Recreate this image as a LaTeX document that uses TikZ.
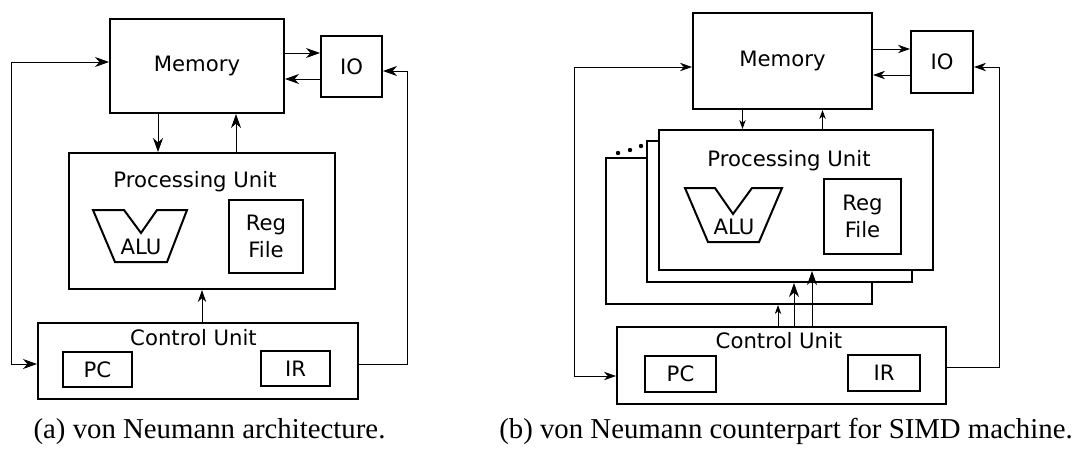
\documentclass[tikz,border=0pt]{standalone}
\usepackage{fontspec}
\setmainfont{Liberation Serif}
\newfontfamily\blockfont{DejaVu Sans}
\usetikzlibrary{arrows.meta}

\begin{document}
\begin{tikzpicture}
	[x=0.5pt, y=-0.5pt,
	>={Stealth[length=7pt,width=5pt,inset=2.2pt]},
	midtip/.style={>={Stealth[length=6pt,width=4.2pt,inset=1.9pt]}},
	smalltip/.style={>={Stealth[length=4.5pt,width=3.2pt,inset=1.4pt]}},
	block/.style={draw, line width=1pt, fill=white, inner sep=0pt,
		font=\blockfont\fontsize{10.6}{13.5}\selectfont, align=center},
	blocktext/.style={inner sep=0pt, font=\blockfont\fontsize{10.6}{13.5}\selectfont},
	wire/.style={line width=0.5pt},
	captiontext/.style={anchor=base, inner sep=0pt, font=\fontsize{14.4}{17}\selectfont}]
	\useasboundingbox (0,0) rectangle (1075,456);

	% (a)
	\node[block, minimum width=87pt, minimum height=47pt] (memA) at (197,66) {Memory};
	\node[block, minimum width=30.5pt, minimum height=30.5pt] (ioA) at (351.5,66.5) {IO};
	\node[block, minimum width=133pt, minimum height=68pt] (puA) at (202,221) {};
	\node[blocktext] (puAname) at (195,182) {Processing Unit};
	\draw[line width=1pt] (93,210) -- (124,210) -- (141,233) -- (157,210) -- (187,210)
		-- (167,262) -- (115,262) -- cycle;
	\node[blocktext] (aluA) at (141,247) {ALU};
	\node[block, minimum width=37pt, minimum height=36.5pt] (regA) at (266,236.5) {Reg\\File};
	\node[block, minimum width=160pt, minimum height=38pt] (cuA) at (198,361) {};
	\node[blocktext] (cuAname) at (193.5,337.5) {Control Unit};
	\node[block, minimum width=34.5pt, minimum height=17.5pt] (pcA) at (97.5,369.5) {PC};
	\node[block, minimum width=34.5pt, minimum height=17.5pt] (irA) at (295.5,368.5) {IR};
	\coordinate (leftA) at (11,0);
	\coordinate (rightA) at (407,0);
	\coordinate (cuAin) at ([yshift=-1.5pt]cuA.west);
	\coordinate (cuAout) at ([yshift=-1.5pt]cuA.east);
	\coordinate (ioAin) at ([yshift=-2.25pt]ioA.east);

	\draw[wire,->] ([yshift=6.5pt]memA.east) -- ([yshift=6.5pt]memA.east -| ioA.west);
	\draw[wire,->] ([yshift=-6.25pt]ioA.west) -- ([yshift=-6.25pt]ioA.west -| memA.east);
	\draw[wire,->] ([xshift=-19.5pt]memA.south) -- ([xshift=-19.5pt]memA.south |- puA.north);
	\draw[wire,->] ([xshift=19.5pt]memA.south |- puA.north) -- ([xshift=19.5pt]memA.south);
	\draw[wire,midtip,->] (cuA.north -| puA.south) -- (puA.south);
	\draw[wire,<->] ([yshift=2pt]memA.west) -| (cuAin -| leftA) -- (cuAin);
	\draw[wire,->] (cuAout) -| (ioAin -| rightA) -- (ioAin);

	% (b)
	\node[block, minimum width=89.5pt, minimum height=48pt] (memB) at (782.5,61) {Memory};
	\node[block, minimum width=31pt, minimum height=31pt] (ioB) at (942,62) {IO};
	\node[block, minimum width=133pt, minimum height=73pt] (puB3) at (739,231) {};
	\node[block, minimum width=132.5pt, minimum height=70.5pt] (puB2) at (779.5,211.5) {};
	\node[block, minimum width=137pt, minimum height=70pt] (puB) at (796,200) {};
	\foreach \x/\y in {618/153,630/150,641/146}
		\fill (\x,\y) circle (1.1pt);
	\node[blocktext] (puBname) at (789,161) {Processing Unit};
	\draw[line width=1pt] (685,188) -- (715,188) -- (733,214) -- (752,188) -- (782,188)
		-- (759,242) -- (708,242) -- cycle;
	\node[blocktext] (aluB) at (734,227) {ALU};
	\node[block, minimum width=38.5pt, minimum height=37.5pt] (regB) at (862.5,216.5) {Reg\\File};
	\node[block, minimum width=164.5pt, minimum height=38.5pt] (cuB) at (781.5,365.5) {};
	\node[blocktext] (cuBname) at (779,341) {Control Unit};
	\node[block, minimum width=35.5pt, minimum height=18pt] (pcB) at (680.5,374) {PC};
	\node[block, minimum width=36pt, minimum height=18pt] (irB) at (884,373) {IR};
	\coordinate (leftB) at (574,0);
	\coordinate (rightB) at (999,0);
	\coordinate (cuBin) at ([yshift=-5.25pt]cuB.west);
	\coordinate (cuBout) at ([yshift=-0.75pt]cuB.east);
	\coordinate (ioBin) at ([yshift=-2.5pt]ioB.east);

	\draw[wire,midtip,->] ([yshift=6pt]memB.east) -- ([yshift=6pt]memB.east -| ioB.west);
	\draw[wire,midtip,->] ([yshift=-6.5pt]ioB.west) -- ([yshift=-6.5pt]ioB.west -| memB.east);
	\draw[wire,smalltip,->] ([xshift=-20pt]memB.south) -- ([xshift=-20pt]memB.south |- puB.north);
	\draw[wire,smalltip,->] ([xshift=20pt]memB.south |- puB.north) -- ([xshift=20pt]memB.south);
	\draw[wire,smalltip,->] ([xshift=-1.75pt]cuB.north) -- ([xshift=-1.75pt]cuB.north |- puB3.south);
	\draw[wire,->] ([xshift=6.25pt]cuB.north) -- ([xshift=6.25pt]cuB.north |- puB2.south);
	\draw[wire,->] ([xshift=15.25pt]cuB.north) -- ([xshift=15.25pt]cuB.north |- puB.south);
	\draw[wire,midtip,<->] ([yshift=-3pt]memB.west) -| (cuBin -| leftB) -- (cuBin);
	\draw[wire,midtip,->] (cuBout) -| (ioBin -| rightB) -- (ioBin);

	\node[captiontext] (capA) at (209.5,438) {(a) von Neumann architecture.};
	\node[captiontext] (capB) at (786,438) {(b) von Neumann counterpart for SIMD machine.};
\end{tikzpicture}
\end{document}
